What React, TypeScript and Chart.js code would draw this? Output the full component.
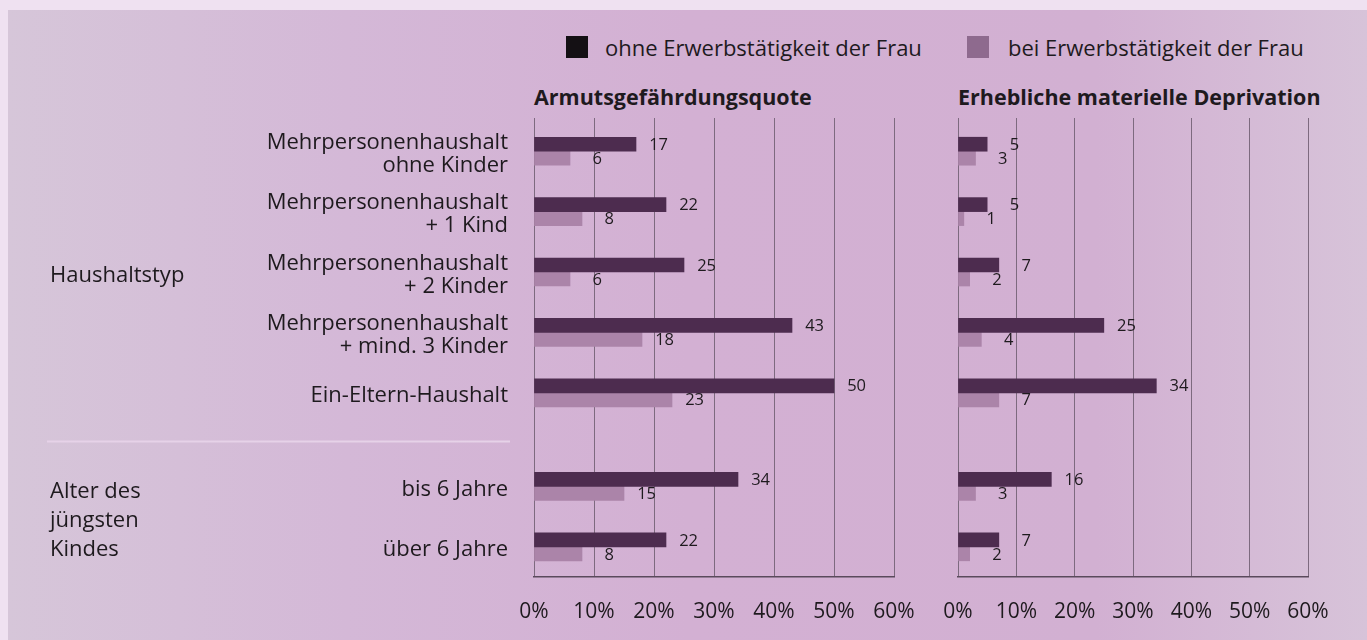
import React, { useEffect, useRef } from 'react';
import { Chart, registerables } from 'chart.js';
Chart.register(...registerables);

// ---- data ----
const categories: string[][] = [
  ['Mehrpersonenhaushalt', 'ohne Kinder'],
  ['Mehrpersonenhaushalt', '+ 1 Kind'],
  ['Mehrpersonenhaushalt', '+ 2 Kinder'],
  ['Mehrpersonenhaushalt', '+ mind. 3 Kinder'],
  ['Ein-Eltern-Haushalt'],
  ['bis 6 Jahre'],
  ['über 6 Jahre'],
];
const categoryGroup = [0, 0, 0, 0, 0, 1, 1];
const groupLabels: string[][] = [['Haushaltstyp'], ['Alter des', 'jüngsten', 'Kindes']];
const seriesNames = ['ohne Erwerbstätigkeit der Frau', 'bei Erwerbstätigkeit der Frau'];
const armutOhne = [17, 22, 25, 43, 50, 34, 22];
const armutBei = [6, 8, 6, 18, 23, 15, 8];
const deprivOhne = [5, 5, 7, 25, 34, 16, 7];
const deprivBei = [3, 1, 2, 4, 7, 3, 2];
const panelTitles = ['Armutsgefährdungsquote', 'Erhebliche materielle Deprivation'];
const xTickValues = [0, 10, 20, 30, 40, 50, 60];

// ---- styles ----
const FONT = "'Open Sans', 'Noto Sans', sans-serif";
const DARK = '#4d2c4f';
const LIGHT = '#ab84a9';
const GRID = '#7d6a7f';
const TEXT = '#1e1a1e';
const GROUP_GAP = 0.55;

const rowPos = (i: number) => i + categoryGroup[i] * GROUP_GAP;

const valueLabelPlugin = {
  id: 'valueLabels',
  afterDatasetsDraw(chart: any) {
    const ctx = chart.ctx;
    ctx.save();
    ctx.font = `16.5px ${FONT}`;
    ctx.fillStyle = TEXT;
    ctx.textAlign = 'right';
    ctx.textBaseline = 'middle';
    chart.data.datasets.forEach((ds: any, di: number) => {
      const meta = chart.getDatasetMeta(di);
      meta.data.forEach((el: any, i: number) => {
        ctx.fillText(String(ds.data[i].x), el.x + 32, el.y + 1);
      });
    });
    ctx.restore();
  },
};

const groupPlugin = {
  id: 'groups',
  afterDraw(chart: any) {
    const ctx = chart.ctx;
    const y = chart.scales.y;
    ctx.save();
    ctx.font = `22px ${FONT}`;
    ctx.fillStyle = TEXT;
    ctx.textAlign = 'left';
    ctx.textBaseline = 'middle';
    groupLabels.forEach((lines, g) => {
      const idx = categoryGroup.map((cg, i) => (cg === g ? i : -1)).filter((i) => i >= 0);
      const center = (y.getPixelForValue(rowPos(idx[0])) + y.getPixelForValue(rowPos(idx[idx.length - 1]))) / 2 + 4;
      const lh = 29;
      lines.forEach((t, k) => {
        ctx.fillText(t, 50, center + (k - (lines.length - 1) / 2) * lh);
      });
    });
    // separator between groups
    const lastOfFirst = categoryGroup.lastIndexOf(0);
    const sepY = (y.getPixelForValue(rowPos(lastOfFirst)) + y.getPixelForValue(rowPos(lastOfFirst + 1))) / 2 + 2;
    ctx.strokeStyle = '#e6d2e8';
    ctx.lineWidth = 2;
    ctx.beginPath();
    ctx.moveTo(47, sepY);
    ctx.lineTo(510, sepY);
    ctx.stroke();
    ctx.restore();
  },
};

function makeConfig(ohne: number[], bei: number[], withLabels: boolean, padding: any): any {
  return {
    type: 'bar',
    data: {
      datasets: [
        { label: seriesNames[0], data: ohne.map((v, i) => ({ x: v, y: rowPos(i) })), backgroundColor: DARK, barThickness: 14 },
        { label: seriesNames[1], data: bei.map((v, i) => ({ x: v, y: rowPos(i) })), backgroundColor: LIGHT, barThickness: 14 },
      ],
    },
    options: {
      indexAxis: 'y',
      animation: false,
      responsive: false,
      maintainAspectRatio: false,
      layout: { padding },
      plugins: { legend: { display: false }, tooltip: { enabled: false }, title: { display: false } },
      scales: {
        x: {
          type: 'linear',
          min: 0,
          max: 60,
          afterBuildTicks: (s: any) => {
            s.ticks = xTickValues.map((v) => ({ value: v }));
          },
          afterFit: (s: any) => {
            s.height = 63;
            s.paddingLeft = 0;
            s.paddingRight = 0;
          },
          grid: { color: GRID, lineWidth: 1, drawTicks: false },
          border: { display: true, color: '#5a4a5c', width: 1.5 },
          ticks: {
            callback: (v: any) => v + '%',
            font: { family: FONT, size: 21 },
            color: TEXT,
            padding: 22,
            maxRotation: 0,
            autoSkip: false,
          },
        },
        y: {
          type: 'linear',
          reverse: true,
          offset: false,
          min: -0.55,
          max: 6 + GROUP_GAP + 0.5,
          display: withLabels,
          afterBuildTicks: (s: any) => {
            s.ticks = categories.map((_, i) => ({ value: rowPos(i) }));
          },
          afterFit: (s: any) => {
            if (withLabels) s.width = 534;
            s.paddingTop = 0;
            s.paddingBottom = 0;
          },
          grid: { display: false },
          border: { display: false },
          ticks: {
            callback: (_v: any, i: number) => categories[i],
            font: { family: FONT, size: 22, lineHeight: '23px' },
            color: TEXT,
            padding: 18,
            labelOffset: 3,
            autoSkip: false,
          },
        },
      },
    },
    plugins: withLabels ? [valueLabelPlugin, groupPlugin] : [valueLabelPlugin],
  };
}

export default function App() {
  const leftRef = useRef<HTMLCanvasElement>(null);
  const rightRef = useRef<HTMLCanvasElement>(null);

  useEffect(() => {
    const c1 = new Chart(leftRef.current!, makeConfig(armutOhne, armutBei, true, { top: 118, right: 26, bottom: 0, left: 0 }));
    const c2 = new Chart(rightRef.current!, makeConfig(deprivOhne, deprivBei, false, { top: 118, right: 59, bottom: 0, left: 28 }));
    return () => {
      c1.destroy();
      c2.destroy();
    };
  }, []);

  const textStyle: React.CSSProperties = { position: 'absolute', fontFamily: FONT, color: TEXT, whiteSpace: 'nowrap', lineHeight: '28px' };

  return (
    <div style={{ position: 'absolute', left: 0, top: 0, width: 1367, height: 640, background: '#efe1f1', overflow: 'hidden' }}>
      <div
        style={{
          position: 'absolute',
          left: 8,
          top: 10,
          right: 0,
          bottom: 0,
          background: 'linear-gradient(90deg, #d6c6d9 0%, #d4b8d7 25%, #d3b0d3 50%, #d2b0d2 80%, #d7c3d9 100%)',
        }}
      />
      {/* legend */}
      <div style={{ position: 'absolute', left: 566, top: 36, width: 22, height: 22, background: '#141014' }} />
      <div style={{ ...textStyle, left: 605, top: 33, fontSize: 22 }}>{seriesNames[0]}</div>
      <div style={{ position: 'absolute', left: 967, top: 36, width: 22, height: 22, background: '#8e6a8e' }} />
      <div style={{ ...textStyle, left: 1008, top: 33, fontSize: 22 }}>{seriesNames[1]}</div>
      {/* panel titles */}
      <div style={{ ...textStyle, left: 534, top: 83, fontSize: 21.5, fontWeight: 700 }}>{panelTitles[0]}</div>
      <div style={{ ...textStyle, left: 958, top: 83, fontSize: 21.5, fontWeight: 700 }}>{panelTitles[1]}</div>
      <canvas ref={leftRef} width={920} height={640} style={{ position: 'absolute', left: 0, top: 0, width: 920, height: 640 }} />
      <canvas ref={rightRef} width={437} height={640} style={{ position: 'absolute', left: 930, top: 0, width: 437, height: 640 }} />
    </div>
  );
}
